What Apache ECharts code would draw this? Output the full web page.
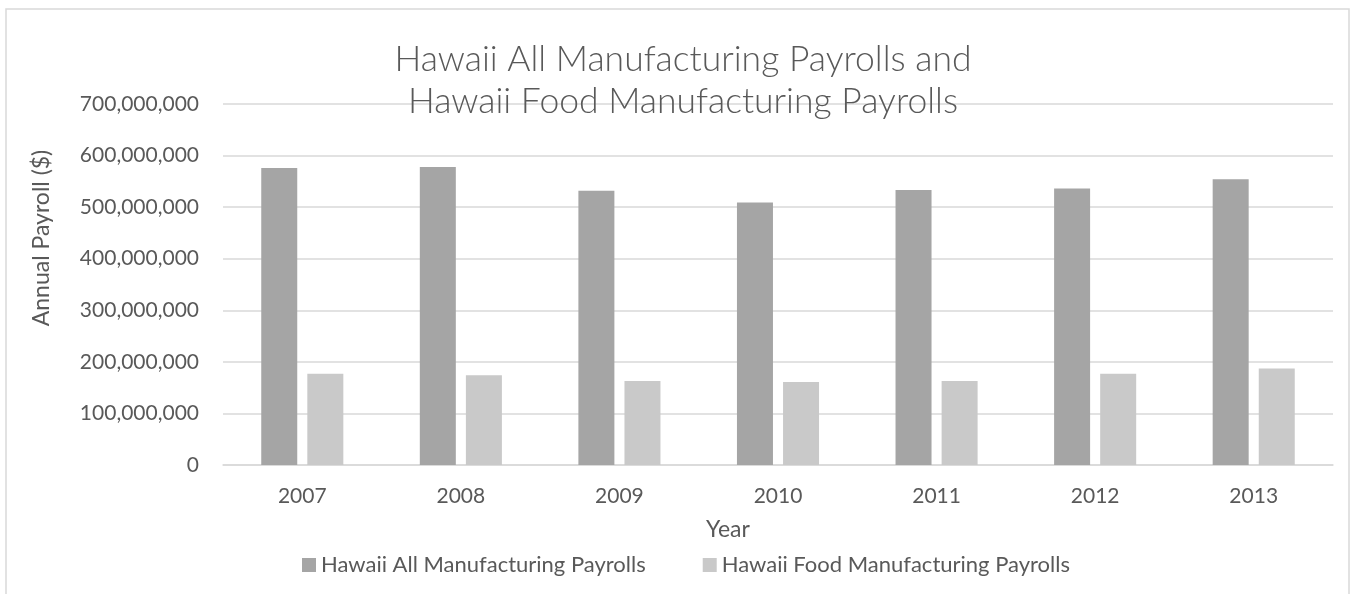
<!DOCTYPE html>
<html>
<head>
<meta charset="utf-8">
<script src="https://cdn.jsdelivr.net/npm/echarts@6/dist/echarts.min.js"></script>
<style>
  html, body { margin: 0; padding: 0; background: #ffffff; }
  #chart { width: 1351px; height: 594px; }
</style>
</head>
<body>
<div id="chart"></div>
<script>
// Annual payrolls, Hawaii, 2007-2013 (US dollars)
const years = ['2007', '2008', '2009', '2010', '2011', '2012', '2013'];
const allManufacturing = [576000000, 578000000, 532000000, 509000000, 533000000, 536000000, 554000000];
const foodManufacturing = [177000000, 174000000, 163000000, 161000000, 163000000, 177000000, 187000000];
const seriesNames = ['Hawaii All Manufacturing Payrolls', 'Hawaii Food Manufacturing Payrolls'];

const FONT = 'Lato, "Open Sans", sans-serif';
const TEXT = '#595959';
const GRID = '#d9d9d9';

const chart = echarts.init(document.getElementById('chart'), null, { renderer: 'canvas' });

chart.setOption({
  backgroundColor: '#ffffff',
  animation: false,
  title: {
    text: 'Hawaii All Manufacturing Payrolls and\nHawaii Food Manufacturing Payrolls',
    left: 678,
    top: 34,
    textAlign: 'center',
    textStyle: {
      fontFamily: FONT,
      fontSize: 35.5,
      fontWeight: 300,
      color: TEXT,
      lineHeight: 42
    }
  },
  legend: {
    left: 297,
    top: 549,
    itemWidth: 14,
    itemHeight: 14,
    itemGap: 57,
    icon: 'rect',
    data: seriesNames,
    textStyle: { fontFamily: FONT, fontSize: 22, color: TEXT }
  },
  grid: { left: 223, right: 18, top: 104, bottom: 129, containLabel: false },
  xAxis: {
    type: 'category',
    data: years,
    axisTick: { show: false },
    axisLine: { lineStyle: { color: GRID, width: 1.5 } },
    axisLabel: { margin: 21, fontFamily: FONT, fontSize: 21, color: TEXT }
  },
  yAxis: {
    type: 'value',
    min: 0,
    max: 700000000,
    interval: 100000000,
    axisLine: { show: false },
    axisTick: { show: false },
    splitLine: { lineStyle: { color: GRID, width: 1.5 } },
    axisLabel: {
      margin: 24,
      fontFamily: FONT,
      fontSize: 21,
      color: TEXT,
      formatter: v => v.toLocaleString('en-US')
    }
  },
  graphic: [
    {
      type: 'rect',
      z: -10,
      silent: true,
      shape: { x: 6, y: 9, width: 1343, height: 600 },
      style: { fill: 'none', stroke: GRID, lineWidth: 1.5 }
    },
    {
      type: 'text',
      x: 42,
      y: 238,
      rotation: Math.PI / 2,
      style: {
        text: 'Annual Payroll ($)',
        fontFamily: FONT,
        fontSize: 23,
        fill: TEXT,
        align: 'center',
        verticalAlign: 'middle'
      }
    },
    {
      type: 'text',
      x: 728,
      y: 530,
      style: {
        text: 'Year',
        fontFamily: FONT,
        fontSize: 23,
        fill: TEXT,
        align: 'center',
        verticalAlign: 'middle'
      }
    }
  ],
  series: [
    {
      name: seriesNames[0],
      type: 'bar',
      data: allManufacturing,
      barWidth: 36,
      barGap: '28%',
      itemStyle: { color: '#a5a5a5' }
    },
    {
      name: seriesNames[1],
      type: 'bar',
      data: foodManufacturing,
      barWidth: 36,
      itemStyle: { color: '#c9c9c9' }
    }
  ]
});
</script>
</body>
</html>
